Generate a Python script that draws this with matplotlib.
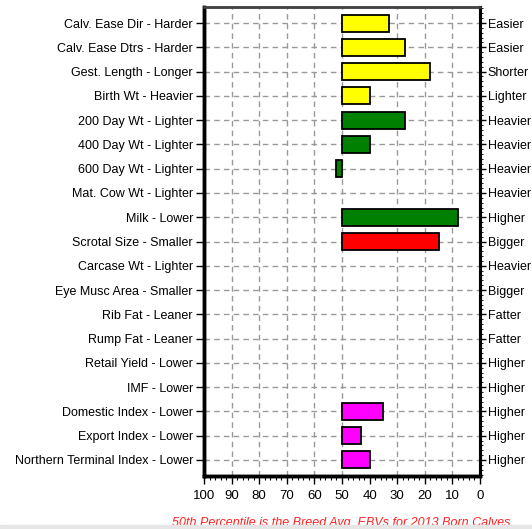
import matplotlib
matplotlib.use("Agg")
import matplotlib.pyplot as plt
from matplotlib.ticker import MultipleLocator
import numpy as np

plt.rcParams['font.family'] = ['Liberation Sans', 'DejaVu Sans']

# traits (left label = low side, right label = good side)
left_labels = ['Calv. Ease Dir - Harder', 'Calv. Ease Dtrs - Harder', 'Gest. Length - Longer',
               'Birth Wt - Heavier', '200 Day Wt - Lighter', '400 Day Wt - Lighter',
               '600 Day Wt - Lighter', 'Mat. Cow Wt - Lighter', 'Milk - Lower',
               'Scrotal Size - Smaller', 'Carcase Wt - Lighter', 'Eye Musc Area - Smaller',
               'Rib Fat - Leaner', 'Rump Fat - Leaner', 'Retail Yield - Lower', 'IMF - Lower',
               'Domestic Index - Lower', 'Export Index - Lower', 'Northern Terminal Index - Lower']
right_labels = ['Easier', 'Easier', 'Shorter', 'Lighter', 'Heavier', 'Heavier', 'Heavier',
                'Heavier', 'Higher', 'Bigger', 'Heavier', 'Bigger', 'Fatter', 'Fatter',
                'Higher', 'Higher', 'Higher', 'Higher', 'Higher']
# percentile band reached by each trait (bars start at the 50th percentile)
percentile = [33, 27, 18, 40, 27, 40, 52, 50, 8, 15, 50, 50, 50, 50, 50, 50, 35, 43, 40]
bar_colors = ['#ffff00'] * 4 + ['#008000'] * 5 + ['#ff0000'] + ['#ff00ff'] * 9
avg = 50

fig = plt.figure(figsize=(5.32, 5.29), dpi=100)
ax = fig.add_axes([204 / 532, 1 - 476 / 529, 276 / 532, 469 / 529])

y = np.arange(len(left_labels))
vals = np.array(percentile, dtype=float)
show = vals != avg
ax.barh(y[show], vals[show] - avg, left=avg, height=0.7,
        color=[c for c, s in zip(bar_colors, show) if s],
        edgecolor='black', linewidth=1.3, zorder=3)

ax.set_xlim(100, 0)
ax.set_ylim(len(y) - 1 + 0.66, -0.66)
ax.xaxis.set_major_locator(MultipleLocator(10))
ax.xaxis.set_minor_locator(MultipleLocator(2))
ax.set_yticks(y)
ax.set_yticklabels(left_labels, fontsize=9)
ax.tick_params(axis='x', which='major', length=6, width=1, labelsize=9.5, pad=4)
ax.tick_params(axis='x', which='minor', length=3, width=0.8)
ax.tick_params(axis='y', length=6, width=1, pad=2)

ax.grid(True, color='#999999', linestyle=(0, (4, 3)), linewidth=1, zorder=0)
ax.set_axisbelow(True)
# the 50th percentile line is hidden by the bar origin
ax.get_xgridlines()[5].set_visible(False)

ax2 = ax.twinx()
ax2.set_ylim(ax.get_ylim())
ax2.set_yticks(y)
ax2.set_yticklabels(right_labels, fontsize=9)
ax2.yaxis.set_minor_locator(MultipleLocator(0.2))
ax2.tick_params(axis='y', which='major', length=4, width=1, pad=1.5)
ax2.tick_params(axis='y', which='minor', length=2.5, width=0.6)

for a in (ax, ax2):
    a.spines['left'].set_linewidth(2.5)
    a.spines['bottom'].set_linewidth(2.5)
    a.spines['right'].set_linewidth(2.2)
    a.spines['top'].set_linewidth(1.8)
    a.spines['top'].set_color('#444444')

fig.text(341 / 532, 1 - 523 / 529, '50th Percentile is the Breed Avg. EBVs for 2013 Born Calves',
         color='#ff2020', fontsize=9, style='italic', ha='center', va='center')
fig.patches.append(plt.Rectangle((0, 0), 1, 4 / 529, transform=fig.transFigure,
                                 color='#e6e6e6', zorder=5))

fig.savefig('out.png', dpi=100)
